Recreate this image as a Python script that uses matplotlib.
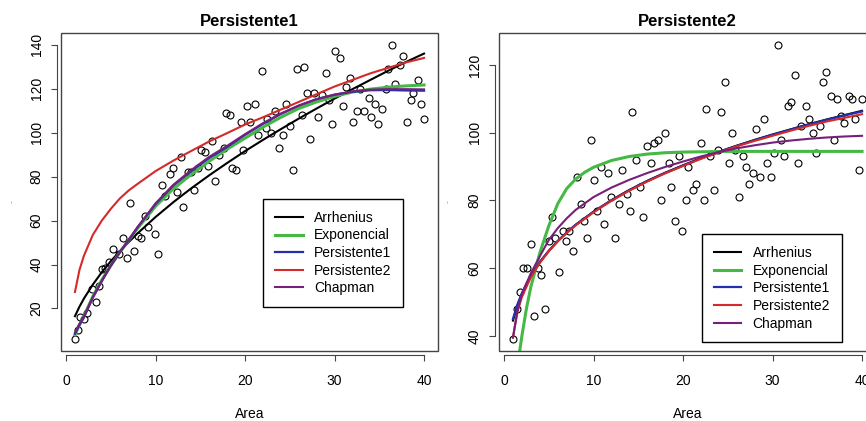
import matplotlib
matplotlib.use('Agg')
import matplotlib.pyplot as plt
from matplotlib.patches import Rectangle
from matplotlib.lines import Line2D

plt.rcParams['font.family'] = ['Liberation Sans', 'DejaVu Sans']
plt.rcParams['font.size'] = 10

# observed points, panel 1
area_p1 = [1.0, 1.3, 1.6, 2.0, 2.4, 2.9, 3.3, 3.7, 4.0, 4.4, 4.8, 5.3, 5.9, 6.4, 6.8, 7.2, 7.6, 8.0, 8.4, 8.8,
           9.2, 9.9, 10.3, 10.7, 11.1, 11.6, 12.0, 12.4, 12.8, 13.1, 13.6, 14.0, 14.3, 14.7, 15.1, 15.5, 15.9, 16.3, 16.7, 17.1,
           17.6, 17.9, 18.3, 18.6, 19.0, 19.5, 19.8, 20.2, 20.5, 21.1, 21.4, 21.9, 22.3, 22.5, 22.9, 23.4, 23.8, 24.2, 24.6, 25.0,
           25.4, 25.8, 26.4, 26.6, 26.9, 27.3, 27.7, 28.2, 28.6, 29.0, 29.4, 29.7, 30.1, 30.6, 30.9, 31.3, 31.7, 32.1, 32.5, 32.9,
           33.3, 33.8, 34.1, 34.5, 34.9, 35.3, 35.7, 36.0, 36.4, 36.8, 37.3, 37.6, 38.1, 38.5, 38.8, 39.3, 39.7, 40.0]
rich_p1 = [6, 10, 16, 15, 18, 29, 23, 30, 38, 38.5, 41, 47, 45, 52, 43, 68, 46, 53, 52, 62,
           57, 54, 45, 76, 71, 81, 84, 73, 89, 66, 82, 82, 74, 84, 92, 91, 85, 96, 78, 90,
           93, 109, 108, 84, 83, 105, 92, 112, 105, 113, 99, 128, 102, 106, 100, 110, 93, 99, 113, 103,
           83, 129, 108, 130, 118, 97, 118, 107, 117, 127, 115, 104, 137, 134, 112, 121, 125, 105, 110, 120,
           110, 116, 107, 113, 104, 111, 120, 129, 140, 122, 131, 135, 105, 115, 118, 124, 113, 106]

# observed points, panel 2
area_p2 = [1.05, 1.4, 1.78, 2.16, 2.6, 2.97, 3.35, 3.8, 4.16, 4.6, 5.0, 5.35, 5.72, 6.1, 6.54, 6.9, 7.29, 7.73, 8.1, 8.55,
           8.9, 9.3, 9.74, 10.0, 10.4, 10.85, 11.2, 11.6, 12.0, 12.4, 12.9, 13.2, 13.7, 14.05, 14.35, 14.8, 15.2, 15.5, 16.0, 16.4,
           16.8, 17.2, 17.5, 18.0, 18.4, 18.7, 19.1, 19.55, 19.9, 20.3, 20.6, 21.1, 21.5, 21.97, 22.3, 22.6, 23.05, 23.5, 23.9, 24.2,
           24.65, 25.1, 25.5, 25.8, 26.3, 26.7, 27.0, 27.4, 27.8, 28.2, 28.6, 29.0, 29.4, 29.8, 30.2, 30.6, 31.0, 31.3, 31.7, 32.1,
           32.5, 32.9, 33.2, 33.7, 34.1, 34.5, 34.9, 35.3, 35.6, 36.0, 36.5, 36.85, 37.2, 37.7, 38.0, 38.5, 38.9, 39.2, 39.7, 40.0]
rich_p2 = [39, 48, 53, 60, 60, 67, 46, 60, 58, 48, 68, 75, 69, 59, 71, 68, 71, 65, 87, 79,
           74, 69, 98, 86, 77, 90, 73, 88, 81, 69, 79, 89, 82, 77, 106, 92, 84, 75, 96, 91,
           97, 98, 80, 100, 91, 84, 74, 93, 71, 80, 90, 83, 85, 97, 80, 107, 93, 83, 95, 106,
           115, 91, 100, 95, 81, 93, 90, 85, 88, 101, 87, 104, 91, 87, 94, 126, 98, 93, 108, 109,
           117, 91, 102, 108, 104, 100, 94, 102, 115, 118, 111, 98, 110, 105, 103, 111, 110, 104, 89, 110]

# fitted curves, read at these areas
curve_area = [1, 1.5, 2, 3, 4, 5, 6, 7, 8, 10, 12, 14, 16, 18, 20, 22, 24, 26, 28, 30, 32, 34, 36, 38, 40]

arrh_1 = [16.5, 20.8, 24.5, 30.9, 36.5, 41.5, 46.0, 50.2, 54.2, 61.6, 68.4, 74.7, 80.6, 86.2, 91.6, 96.7, 101.6, 106.4, 111.0, 115.5, 119.8, 124.0, 128.2, 132.2, 136.0]
expo_1 = [8, 12.5, 16.5, 25.5, 33, 39.5, 45.5, 51, 56.5, 66.5, 74.5, 81, 87, 92.5, 97.5, 102.5, 107, 111, 114, 116.5, 118.5, 119.8, 120.7, 121.3, 121.7]
pers1_1 = [8.5, 12.5, 16, 25, 32.5, 39.5, 45.5, 51, 57, 67.5, 76, 82.5, 88.5, 93.5, 99, 104, 108.5, 112.3, 115.3, 117.3, 118.6, 119.3, 119.4, 119.2, 119.1]
pers2_1 = [27.5, 37.5, 44, 53.5, 60, 65.3, 70, 73.7, 76.7, 82.5, 87.3, 91.7, 96, 99.8, 103.7, 107, 110.5, 114, 117.5, 121, 124, 127, 129.5, 132, 134]
chap_1 = [9, 13, 16.5, 25, 32.5, 39.5, 45.7, 51.3, 57, 67.8, 76.3, 83, 89, 94, 99.3, 104.3, 108.7, 112.3, 115.2, 117.3, 118.8, 119.6, 119.8, 119.8, 119.7]

arrh_2 = [44.5, 49.0, 52.4, 57.7, 61.8, 65.1, 68.0, 70.5, 72.8, 76.7, 80.1, 83.1, 85.8, 88.2, 90.4, 92.5, 94.4, 96.2, 97.9, 99.5, 101.0, 102.5, 103.9, 105.2, 106.5]
pers1_2 = [45, 49.3, 52.6, 57.8, 61.8, 65.1, 68.0, 70.5, 72.8, 76.6, 80.0, 83.0, 85.7, 88.1, 90.3, 92.4, 94.3, 96.1, 97.8, 99.4, 100.9, 102.4, 103.8, 105.1, 106.3]
pers2_2 = [39.5, 47, 51.5, 57.3, 61.5, 65, 67.9, 70.4, 72.6, 76.5, 79.9, 82.9, 85.6, 88.0, 90.2, 92.3, 94.2, 96.0, 97.6, 99.1, 100.6, 102.0, 103.3, 104.4, 105.5]
chap_2 = [39.5, 47.5, 52.5, 58.5, 63.5, 68.3, 71.8, 74.7, 77.2, 81.0, 83.8, 86.1, 88.1, 89.9, 91.5, 93.0, 94.3, 95.4, 96.3, 97.1, 97.7, 98.2, 98.6, 98.9, 99.1]
expo_area_2 = [1.75, 2, 2.5, 3, 3.5, 4, 4.5, 5, 6, 7, 8, 9, 10, 12, 14, 16, 18, 20, 25, 30, 35, 40]
expo_2 = [35.5, 40, 48, 54.5, 59.5, 64.5, 68.5, 72.5, 79, 83.5, 86.3, 88.3, 89.8, 91.8, 93, 93.7, 94.1, 94.3, 94.5, 94.5, 94.5, 94.5]

model_names = ['Arrhenius', 'Exponencial', 'Persistente1', 'Persistente2', 'Chapman']
model_colors = ['black', '#45b845', '#2230b0', '#d42a2a', '#77207a']
model_widths = [1.5, 2.2, 1.6, 1.5, 1.5]

W, H = 866, 421
fig = plt.figure(figsize=(W / 100, H / 100), dpi=100)


def r_panel(left_px, ylim, yticks, title):
    ax = fig.add_axes([left_px / W, (H - 351) / H, 377 / W, 318 / H])
    ax.set_xlim(-0.56, 41.56)
    ax.set_ylim(*ylim)
    for s in ax.spines.values():
        s.set_visible(False)
    ax.add_patch(Rectangle((0, 0), 1, 1, transform=ax.transAxes, fill=False,
                           edgecolor='#444444', lw=1.0, clip_on=False, zorder=5))
    for side in ['left', 'bottom']:
        ax.spines[side].set_visible(True)
        ax.spines[side].set_position(('outward', 3))
        ax.spines[side].set_color('#444444')
    ax.spines['bottom'].set_bounds(0, 40)
    ax.spines['left'].set_bounds(yticks[0], yticks[-1])
    ax.set_xticks([0, 10, 20, 30, 40])
    ax.set_yticks(yticks)
    ax.tick_params(axis='both', length=4.5, color='#444444', labelsize=10)
    ax.tick_params(axis='x', pad=9)
    ax.tick_params(axis='y', pad=5)
    for lab in ax.get_yticklabels():
        lab.set_rotation(90)
        lab.set_va('center')
    ax.set_xlabel('Area', labelpad=14)
    ax.set_title(title, fontweight='bold', fontsize=12, pad=5)
    return ax


def add_legend(ax, x_axes, y_axes):
    handles = [Line2D([], [], color=c, lw=w) for c, w in zip(model_colors, model_widths)]
    leg = ax.legend(handles, model_names, loc='upper left', bbox_to_anchor=(x_axes, y_axes),
                    borderaxespad=0, frameon=True, fancybox=False, framealpha=1,
                    edgecolor='black', handlelength=2.0, handletextpad=0.8,
                    labelspacing=0.26, borderpad=0.85, fontsize=10)
    leg.get_frame().set_linewidth(1.0)
    leg.set_zorder(6)


# left panel
ax1 = r_panel(61, (0.64, 145.36), [20, 40, 60, 80, 100, 120, 140], 'Persistente1')
ax1.plot(area_p1, rich_p1, 'o', mfc='none', mec='black', ms=5, mew=0.8)
curves_1 = [(curve_area, arrh_1), (curve_area, expo_1), (curve_area, pers1_1), (curve_area, pers2_1), (curve_area, chap_1)]
for (cx, cy), c, w in zip(curves_1, model_colors, model_widths):
    ax1.plot(cx, cy, color=c, lw=w)
add_legend(ax1, 0.536, 0.478)

# right panel (runs past the right edge of the picture)
ax2 = r_panel(499, (35.52, 129.48), [40, 60, 80, 100, 120], 'Persistente2')
ax2.plot(area_p2, rich_p2, 'o', mfc='none', mec='black', ms=5, mew=0.8)
curves_2 = [(curve_area, arrh_2), (expo_area_2, expo_2), (curve_area, pers1_2), (curve_area, pers2_2), (curve_area, chap_2)]
for (cx, cy), c, w in zip(curves_2, model_colors, model_widths):
    ax2.plot(cx, cy, color=c, lw=w)
add_legend(ax2, 0.538, 0.367)

# faint y-axis label marks
fig.text(12 / W, 1 - 202 / H, '-', rotation=90, fontsize=6, color='#888888', ha='center', va='center')
fig.text(448 / W, 1 - 202 / H, '-', rotation=90, fontsize=6, color='#888888', ha='center', va='center')

plt.savefig('out.png', dpi=100)
